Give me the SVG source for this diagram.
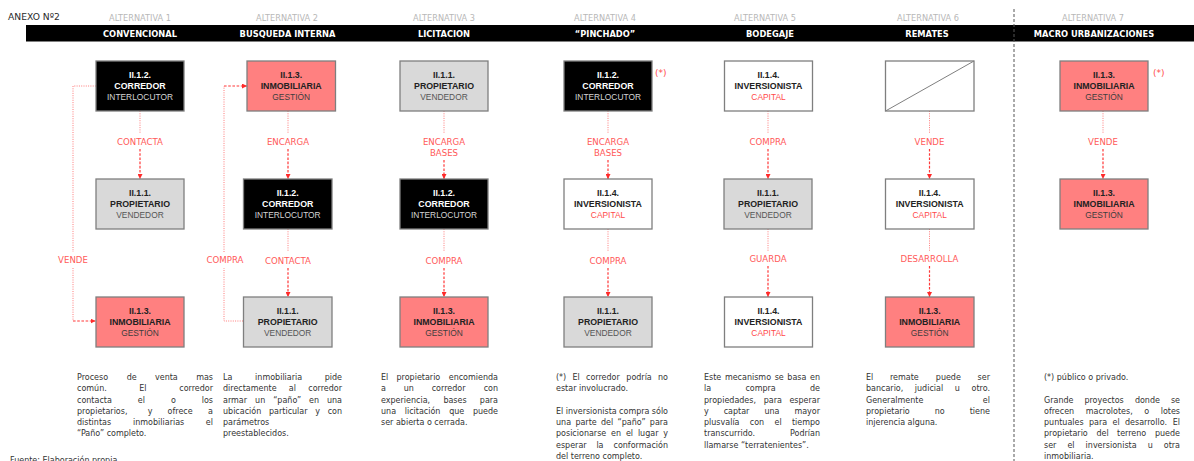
<svg xmlns="http://www.w3.org/2000/svg" width="1194" height="461" viewBox="0 0 1194 461">
<defs>
<style>
.hd{font-family:"DejaVu Sans",sans-serif;font-size:8.2px;fill:#b8b8b8;text-anchor:middle}
.ti{font-family:"DejaVu Sans",sans-serif;font-weight:bold;font-size:8.3px;fill:#fff;text-anchor:middle}
.bx{stroke:#7f7f7f;stroke-width:1.3}
.k rect{fill:#000}.g rect{fill:#d9d9d9}.r rect{fill:#ff8080}.w rect{fill:#fff}
.a{font-family:"Liberation Sans",Arial,sans-serif;font-weight:bold;font-size:8.8px;text-anchor:middle;fill:#222}
.b{font-family:"Liberation Sans",Arial,sans-serif;font-size:8.4px;text-anchor:middle}
.k .a{fill:#fff}.k .b{fill:#d4d4d4}.g .b{fill:#555}.r .b{fill:#3d3d3d}.w .b{fill:#ff4a4a}
.lb{font-family:"DejaVu Sans",sans-serif;font-size:8.6px;fill:#ff5959;text-anchor:middle}
.ast{font-family:"DejaVu Sans",sans-serif;font-size:9px;fill:#ff4a4a}
.dot{fill:none;stroke:#ff7a7a;stroke-width:1;stroke-dasharray:1 1.3}
.dsh{fill:none;stroke:#ff3838;stroke-width:1.2;stroke-dasharray:2.6 1.6;marker-end:url(#ah)}
.bd{font-family:"DejaVu Sans",sans-serif;font-size:8px;fill:#333}
.e{text-anchor:end}
</style>
<marker id="ah" markerWidth="5" markerHeight="5" refX="5" refY="2.5" orient="auto" markerUnits="userSpaceOnUse">
<path d="M0,0 L5,2.5 L0,5 z" fill="#ff2a2a"/>
</marker>
</defs>
<rect width="1194" height="461" fill="#fff"/>

<g id="header">
<text x="8" y="20" font-family="DejaVu Sans, sans-serif" font-size="9.2" fill="#2a2a2a">ANEXO Nº2</text>
<text class="hd" x="140" y="20.5">ALTERNATIVA 1</text>
<text class="hd" x="287" y="20.5">ALTERNATIVA 2</text>
<text class="hd" x="444" y="20.5">ALTERNATIVA 3</text>
<text class="hd" x="605" y="20.5">ALTERNATIVA 4</text>
<text class="hd" x="765" y="20.5">ALTERNATIVA 5</text>
<text class="hd" x="928" y="20.5">ALTERNATIVA 6</text>
<text class="hd" x="1093" y="20.5">ALTERNATIVA 7</text>
<rect x="26" y="25" width="1168" height="16.5" fill="#000"/>
<text class="ti" x="140" y="36.5">CONVENCIONAL</text>
<text class="ti" x="287.5" y="36.5">BUSQUEDA INTERNA</text>
<text class="ti" x="444" y="36.5">LICITACION</text>
<text class="ti" x="605" y="36.5">“PINCHADO”</text>
<text class="ti" x="770" y="36.5">BODEGAJE</text>
<text class="ti" x="927" y="36.5">REMATES</text>
<text class="ti" x="1094" y="36.5">MACRO URBANIZACIONES</text>
<line x1="1014" y1="9" x2="1014" y2="461" stroke="#555" stroke-width="1" stroke-dasharray="3 2"/>
</g>

<g id="connectors">
<!-- col1 -->
<path class="dot" d="M140 111V134"/><path class="dsh" d="M140 149V179"/>
<text class="lb" x="140" y="145">CONTACTA</text>
<path class="dot" d="M96 86H73V252"/><path class="dot" d="M73 268V321"/><path class="dsh" d="M73 321H95.5"/>
<text class="lb" x="73" y="263">VENDE</text>
<!-- col2 -->
<path class="dot" d="M288 111V134"/><path class="dsh" d="M288 149V179"/>
<text class="lb" x="288" y="145">ENCARGA</text>
<path class="dot" d="M288 229V252"/><path class="dsh" d="M288 268V297"/>
<text class="lb" x="288" y="264">CONTACTA</text>
<path class="dot" d="M243 321H224V268"/><path class="dot" d="M224 252V86"/><path class="dsh" d="M224 86H247"/>
<text class="lb" x="225" y="263">COMPRA</text>
<!-- col3 -->
<path class="dot" d="M444 111V134"/><path class="dsh" d="M444 160V179"/>
<text class="lb" x="444" y="145">ENCARGA</text><text class="lb" x="444" y="156">BASES</text>
<path class="dot" d="M444 229V252"/><path class="dsh" d="M444 268V297"/>
<text class="lb" x="444" y="264">COMPRA</text>
<!-- col4 -->
<path class="dot" d="M608 111V134"/><path class="dsh" d="M608 160V179"/>
<text class="lb" x="608" y="145">ENCARGA</text><text class="lb" x="608" y="156">BASES</text>
<path class="dot" d="M608 229V252"/><path class="dsh" d="M608 268V297"/>
<text class="lb" x="608" y="264">COMPRA</text>
<!-- col5 -->
<path class="dot" d="M768 111V134"/><path class="dsh" d="M768 149V179"/>
<text class="lb" x="768" y="145">COMPRA</text>
<path class="dot" d="M768 229V251"/><path class="dsh" d="M768 266V297"/>
<text class="lb" x="768" y="262">GUARDA</text>
<!-- col6 -->
<path class="dot" d="M929.5 111V134"/><path class="dsh" d="M929.5 149V179"/>
<text class="lb" x="929.5" y="145">VENDE</text>
<path class="dot" d="M929.5 229V251"/><path class="dsh" d="M929.5 266V297"/>
<text class="lb" x="929.5" y="262">DESARROLLA</text>
<!-- col7 -->
<path class="dot" d="M1103 111V134"/><path class="dsh" d="M1103 149V179"/>
<text class="lb" x="1103" y="145">VENDE</text>
</g>

<!-- column 1 -->
<g id="c1r1" class="k"><rect class="bx" x="96" y="61" width="88" height="50"/><text class="a" x="140" y="78">II.1.2.</text><text class="a" x="140" y="89">CORREDOR</text><text class="b" x="140" y="100">INTERLOCUTOR</text></g>
<g id="c1r2" class="g"><rect class="bx" x="96" y="179" width="88" height="50"/><text class="a" x="140" y="196">II.1.1.</text><text class="a" x="140" y="207">PROPIETARIO</text><text class="b" x="140" y="218">VENDEDOR</text></g>
<g id="c1r3" class="r"><rect class="bx" x="96" y="297" width="88" height="50"/><text class="a" x="140" y="314">II.1.3.</text><text class="a" x="140" y="325">INMOBILIARIA</text><text class="b" x="140" y="336">GESTIÓN</text></g>
<!-- column 2 -->
<g id="c2r1" class="r"><rect class="bx" x="247" y="61" width="88.5" height="50"/><text class="a" x="291.2" y="78">II.1.3.</text><text class="a" x="291.2" y="89">INMOBILIARIA</text><text class="b" x="291.2" y="100">GESTIÓN</text></g>
<g id="c2r2" class="k"><rect class="bx" x="243.5" y="179" width="88.5" height="50"/><text class="a" x="287.7" y="196">II.1.2.</text><text class="a" x="287.7" y="207">CORREDOR</text><text class="b" x="287.7" y="218">INTERLOCUTOR</text></g>
<g id="c2r3" class="g"><rect class="bx" x="243.5" y="297" width="88.5" height="50"/><text class="a" x="287.7" y="314">II.1.1.</text><text class="a" x="287.7" y="325">PROPIETARIO</text><text class="b" x="287.7" y="336">VENDEDOR</text></g>
<!-- column 3 -->
<g id="c3r1" class="g"><rect class="bx" x="400" y="61" width="88" height="50"/><text class="a" x="444" y="78">II.1.1.</text><text class="a" x="444" y="89">PROPIETARIO</text><text class="b" x="444" y="100">VENDEDOR</text></g>
<g id="c3r2" class="k"><rect class="bx" x="400" y="179" width="88" height="50"/><text class="a" x="444" y="196">II.1.2.</text><text class="a" x="444" y="207">CORREDOR</text><text class="b" x="444" y="218">INTERLOCUTOR</text></g>
<g id="c3r3" class="r"><rect class="bx" x="400" y="297" width="88" height="50"/><text class="a" x="444" y="314">II.1.3.</text><text class="a" x="444" y="325">INMOBILIARIA</text><text class="b" x="444" y="336">GESTIÓN</text></g>
<!-- column 4 -->
<g id="c4r1" class="k"><rect class="bx" x="564" y="61" width="88" height="50"/><text class="a" x="608" y="78">II.1.2.</text><text class="a" x="608" y="89">CORREDOR</text><text class="b" x="608" y="100">INTERLOCUTOR</text></g>
<text class="ast" x="655" y="75.5">(*)</text>
<g id="c4r2" class="w"><rect class="bx" x="564" y="179" width="88" height="50"/><text class="a" x="608" y="196">II.1.4.</text><text class="a" x="608" y="207">INVERSIONISTA</text><text class="b" x="608" y="218">CAPITAL</text></g>
<g id="c4r3" class="g"><rect class="bx" x="564" y="297" width="88" height="50"/><text class="a" x="608" y="314">II.1.1.</text><text class="a" x="608" y="325">PROPIETARIO</text><text class="b" x="608" y="336">VENDEDOR</text></g>
<!-- column 5 -->
<g id="c5r1" class="w"><rect class="bx" x="724.5" y="61" width="88" height="50"/><text class="a" x="768.5" y="78">II.1.4.</text><text class="a" x="768.5" y="89">INVERSIONISTA</text><text class="b" x="768.5" y="100">CAPITAL</text></g>
<g id="c5r2" class="g"><rect class="bx" x="724" y="179" width="88" height="50"/><text class="a" x="768" y="196">II.1.1.</text><text class="a" x="768" y="207">PROPIETARIO</text><text class="b" x="768" y="218">VENDEDOR</text></g>
<g id="c5r3" class="w"><rect class="bx" x="724.5" y="297" width="88" height="50"/><text class="a" x="768.5" y="314">II.1.4.</text><text class="a" x="768.5" y="325">INVERSIONISTA</text><text class="b" x="768.5" y="336">CAPITAL</text></g>
<!-- column 6 -->
<g id="c6r1" class="w"><rect class="bx" x="885.5" y="61" width="88.5" height="50"/><line x1="885.5" y1="111" x2="974" y2="61" stroke="#7f7f7f" stroke-width="1"/></g>
<g id="c6r2" class="w"><rect class="bx" x="885.5" y="179" width="88.5" height="50"/><text class="a" x="929.7" y="196">II.1.4.</text><text class="a" x="929.7" y="207">INVERSIONISTA</text><text class="b" x="929.7" y="218">CAPITAL</text></g>
<g id="c6r3" class="r"><rect class="bx" x="885.5" y="297" width="88.5" height="50"/><text class="a" x="929.7" y="314">II.1.3.</text><text class="a" x="929.7" y="325">INMOBILIARIA</text><text class="b" x="929.7" y="336">GESTIÓN</text></g>
<!-- column 7 -->
<g id="c7r1" class="r"><rect class="bx" x="1060" y="61" width="88" height="50"/><text class="a" x="1104" y="78">II.1.3.</text><text class="a" x="1104" y="89">INMOBILIARIA</text><text class="b" x="1104" y="100">GESTIÓN</text></g>
<text class="ast" x="1153" y="75.5">(*)</text>
<g id="c7r2" class="r"><rect class="bx" x="1060" y="179" width="88" height="50"/><text class="a" x="1104" y="196">II.1.3.</text><text class="a" x="1104" y="207">INMOBILIARIA</text><text class="b" x="1104" y="218">GESTIÓN</text></g>

<g id="notes">
<!-- col1 -->
<text class="bd" y="380"><tspan x="77">Proceso</tspan><tspan x="126.7">de</tspan><tspan x="155">venta</tspan></text><text class="bd e" x="213" y="380">mas</text>
<text class="bd" y="391.25"><tspan x="77">común.</tspan><tspan x="139.2">El</tspan></text><text class="bd e" x="213" y="391.25">corredor</text>
<text class="bd" y="402.5"><tspan x="77">contacta</tspan><tspan x="137.8">el</tspan><tspan x="170.9">o</tspan></text><text class="bd e" x="213" y="402.5">los</text>
<text class="bd" y="413.75"><tspan x="77">propietarios,</tspan><tspan x="147.7">y</tspan><tspan x="167.6">ofrece</tspan></text><text class="bd e" x="213" y="413.75">a</text>
<text class="bd" y="425"><tspan x="77">distintas</tspan><tspan x="133">inmobiliarias</tspan></text><text class="bd e" x="213" y="425">el</text>
<text class="bd" x="77" y="436.25">“Paño” completo.</text>
<!-- col2 -->
<text class="bd" y="380"><tspan x="223">La</tspan><tspan x="255.1">inmobiliaria</tspan></text><text class="bd e" x="342" y="380">pide</text>
<text class="bd" y="391.25"><tspan x="223">directamente</tspan><tspan x="288.8">al</tspan></text><text class="bd e" x="342" y="391.25">corredor</text>
<text class="bd" y="402.5"><tspan x="223">armar</tspan><tspan x="255.1">un</tspan><tspan x="273.2">“paño”</tspan><tspan x="309">en</tspan></text><text class="bd e" x="342" y="402.5">una</text>
<text class="bd" y="413.75"><tspan x="223">ubicación</tspan><tspan x="269">particular</tspan><tspan x="315.2">y</tspan></text><text class="bd e" x="342" y="413.75">con</text>
<text class="bd" x="223" y="425">parámetros</text>
<text class="bd" x="223" y="436.25">preestablecidos.</text>
<!-- col3 -->
<text class="bd" y="380"><tspan x="381">El</tspan><tspan x="396.5">propietario</tspan></text><text class="bd e" x="498" y="380">encomienda</text>
<text class="bd" y="391.25"><tspan x="381">a</tspan><tspan x="403.7">un</tspan><tspan x="431.7">corredor</tspan></text><text class="bd e" x="498" y="391.25">con</text>
<text class="bd" y="402.5"><tspan x="381">experiencia,</tspan><tspan x="443.4">bases</tspan></text><text class="bd e" x="498" y="402.5">para</text>
<text class="bd" y="413.75"><tspan x="381">una</tspan><tspan x="404.7">licitación</tspan><tspan x="449.2">que</tspan></text><text class="bd e" x="498" y="413.75">puede</text>
<text class="bd" x="381" y="425">ser abierta o cerrada.</text>
<!-- col4 -->
<text class="bd" y="380"><tspan x="556">(*)</tspan><tspan x="572.5">El</tspan><tspan x="586">corredor</tspan><tspan x="626.3">podría</tspan></text><text class="bd e" x="668" y="380">no</text>
<text class="bd" x="556" y="391.25">estar involucrado.</text>
<text class="bd" y="413.75"><tspan x="556">El</tspan><tspan x="565.7">inversionista</tspan><tspan x="619.1">compra</tspan></text><text class="bd e" x="668" y="413.75">sólo</text>
<text class="bd" y="425"><tspan x="556">una</tspan><tspan x="575.4">parte</tspan><tspan x="601">del</tspan><tspan x="617.6">“paño”</tspan></text><text class="bd e" x="668" y="425">para</text>
<text class="bd" y="436.25"><tspan x="556">posicionarse</tspan><tspan x="611.1">en</tspan><tspan x="625.9">el</tspan><tspan x="637.9">lugar</tspan></text><text class="bd e" x="668" y="436.25">y</text>
<text class="bd" y="447.5"><tspan x="556">esperar</tspan><tspan x="596.4">la</tspan></text><text class="bd e" x="668" y="447.5">conformación</text>
<text class="bd" x="556" y="458.75">del terreno completo.</text>
<!-- col5 -->
<text class="bd" y="380"><tspan x="704">Este</tspan><tspan x="724.9">mecanismo</tspan><tspan x="774.7">se</tspan><tspan x="787.3">basa</tspan></text><text class="bd e" x="820" y="380">en</text>
<text class="bd" y="391.25"><tspan x="704">la</tspan><tspan x="745.4">compra</tspan></text><text class="bd e" x="820" y="391.25">de</text>
<text class="bd" y="402.5"><tspan x="704">propiedades,</tspan><tspan x="763.7">para</tspan></text><text class="bd e" x="820" y="402.5">esperar</text>
<text class="bd" y="413.75"><tspan x="704">y</tspan><tspan x="723.7">captar</tspan><tspan x="764.4">una</tspan></text><text class="bd e" x="820" y="413.75">mayor</text>
<text class="bd" y="425"><tspan x="704">plusvalía</tspan><tspan x="749.8">con</tspan><tspan x="774.5">el</tspan></text><text class="bd e" x="820" y="425">tiempo</text>
<text class="bd" x="704" y="436.25">transcurrido.</text><text class="bd e" x="820" y="436.25">Podrían</text>
<text class="bd" x="704" y="447.5">llamarse “terratenientes”.</text>
<!-- col6 -->
<text class="bd" y="380"><tspan x="866">El</tspan><tspan x="890">remate</tspan><tspan x="935.8">puede</tspan></text><text class="bd e" x="990" y="380">ser</text>
<text class="bd" y="391.25"><tspan x="866">bancario,</tspan><tspan x="914.8">judicial</tspan><tspan x="954.7">u</tspan></text><text class="bd e" x="990" y="391.25">otro.</text>
<text class="bd" x="866" y="402.5">Generalmente</text><text class="bd e" x="990" y="402.5">el</text>
<text class="bd" y="413.75"><tspan x="866">propietario</tspan><tspan x="934.8">no</tspan></text><text class="bd e" x="990" y="413.75">tiene</text>
<text class="bd" x="866" y="425">injerencia alguna.</text>
<!-- col7 -->
<text class="bd" x="1044" y="380">(*) público o privado.</text>
<text class="bd" y="402.5"><tspan x="1044">Grande</tspan><tspan x="1084.4">proyectos</tspan><tspan x="1134.9">donde</tspan></text><text class="bd e" x="1180" y="402.5">se</text>
<text class="bd" y="413.75"><tspan x="1044">ofrecen</tspan><tspan x="1085.7">macrolotes,</tspan><tspan x="1144.3">o</tspan></text><text class="bd e" x="1180" y="413.75">lotes</text>
<text class="bd" y="425"><tspan x="1044">puntuales</tspan><tspan x="1089">para</tspan><tspan x="1112.5">el</tspan><tspan x="1125">desarrollo.</tspan></text><text class="bd e" x="1180" y="425">El</text>
<text class="bd" y="436.25"><tspan x="1044">propietario</tspan><tspan x="1096.4">del</tspan><tspan x="1117">terreno</tspan></text><text class="bd e" x="1180" y="436.25">puede</text>
<text class="bd" y="447.5"><tspan x="1044">ser</tspan><tspan x="1067.4">el</tspan><tspan x="1085.6">inversionista</tspan><tspan x="1147.7">u</tspan></text><text class="bd e" x="1180" y="447.5">otra</text>
<text class="bd" x="1044" y="458.75">inmobiliaria.</text>
<text class="bd" x="10" y="462.5">Fuente: Elaboración propia.</text>
</g>
</svg>
